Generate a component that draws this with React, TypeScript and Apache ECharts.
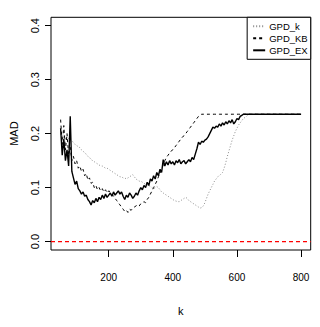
import React, { useEffect, useRef } from "react";
import * as echarts from "echarts";

const kValues = [
  50, 55, 60, 65, 70, 75, 80, 85, 90, 95, 100, 105, 110, 115, 120, 125, 130, 135, 140, 145,
  150, 155, 160, 165, 170, 175, 180, 185, 190, 195, 200, 205, 210, 215, 220, 225, 230, 235, 240, 245,
  250, 255, 260, 265, 270, 275, 280, 285, 290, 295, 300, 305, 310, 315, 320, 325, 330, 335, 340, 345,
  350, 355, 360, 365, 370, 375, 380, 385, 390, 395, 400, 405, 410, 415, 420, 425, 430, 435, 440, 445,
  450, 455, 460, 465, 470, 475, 480, 485, 490, 495, 500, 505, 510, 515, 520, 525, 530, 535, 540, 545,
  550, 555, 560, 565, 570, 575, 580, 585, 590, 595, 600, 605, 610, 615, 620, 625, 630, 635, 640, 645,
  650, 700, 750, 800,
];

const gpdK = [
  0.2, 0.19, 0.205, 0.188, 0.196, 0.19, 0.188, 0.186, 0.184, 0.18, 0.178, 0.176, 0.174, 0.17, 0.168, 0.164, 0.162, 0.158, 0.156, 0.152,
  0.15, 0.148, 0.146, 0.144, 0.142, 0.14, 0.14, 0.138, 0.136, 0.136, 0.134, 0.132, 0.13, 0.128, 0.126, 0.124, 0.122, 0.12, 0.12, 0.118,
  0.118, 0.116, 0.118, 0.12, 0.122, 0.124, 0.12, 0.116, 0.114, 0.112, 0.112, 0.11, 0.108, 0.106, 0.104, 0.104, 0.102, 0.1, 0.098, 0.1,
  0.102, 0.1, 0.096, 0.092, 0.09, 0.088, 0.086, 0.084, 0.082, 0.08, 0.078, 0.076, 0.075, 0.074, 0.074, 0.076, 0.078, 0.08, 0.082, 0.08,
  0.076, 0.074, 0.072, 0.07, 0.068, 0.066, 0.064, 0.062, 0.063, 0.066, 0.072, 0.08, 0.088, 0.094, 0.1, 0.106, 0.112, 0.116, 0.12, 0.122,
  0.125, 0.128, 0.136, 0.146, 0.158, 0.168, 0.178, 0.188, 0.196, 0.204, 0.21, 0.216, 0.22, 0.224, 0.228, 0.23, 0.232, 0.235, 0.236, 0.236,
  0.236, 0.236, 0.236, 0.236,
];

const gpdKB = [
  0.226, 0.18, 0.215, 0.17, 0.2, 0.16, 0.175, 0.15, 0.158, 0.144, 0.15, 0.136, 0.14, 0.13, 0.134, 0.122, 0.126, 0.114, 0.118, 0.108,
  0.11, 0.1, 0.104, 0.096, 0.1, 0.094, 0.098, 0.092, 0.096, 0.09, 0.094, 0.092, 0.088, 0.084, 0.08, 0.076, 0.072, 0.068, 0.064, 0.06,
  0.056, 0.058, 0.054, 0.06, 0.058, 0.062, 0.064, 0.066, 0.068, 0.066, 0.07, 0.072, 0.074, 0.072, 0.078, 0.082, 0.088, 0.094, 0.1, 0.106,
  0.112, 0.12, 0.126, 0.134, 0.142, 0.15, 0.156, 0.16, 0.164, 0.168, 0.17, 0.174, 0.178, 0.182, 0.186, 0.19, 0.194, 0.196, 0.2, 0.204,
  0.208, 0.212, 0.216, 0.22, 0.224, 0.228, 0.232, 0.234, 0.236, 0.236, 0.236, 0.236, 0.236, 0.236, 0.236, 0.236, 0.236, 0.236, 0.236, 0.236,
  0.236, 0.236, 0.236, 0.236, 0.236, 0.236, 0.236, 0.236, 0.236, 0.236, 0.236, 0.236, 0.236, 0.236, 0.236, 0.236, 0.236, 0.236, 0.236, 0.236,
  0.236, 0.236, 0.236, 0.236,
];

const gpdEX = [
  0.21, 0.16, 0.19, 0.15, 0.17, 0.14, 0.232, 0.13, 0.118, 0.106, 0.112, 0.098, 0.094, 0.088, 0.092, 0.084, 0.086, 0.078, 0.074, 0.068,
  0.076, 0.072, 0.08, 0.074, 0.082, 0.078, 0.086, 0.08, 0.088, 0.082, 0.086, 0.09, 0.084, 0.092, 0.086, 0.09, 0.094, 0.088, 0.092, 0.084,
  0.078, 0.086, 0.082, 0.09, 0.086, 0.08, 0.084, 0.09, 0.086, 0.094, 0.1, 0.096, 0.104, 0.1, 0.11, 0.104, 0.116, 0.112, 0.122, 0.116,
  0.128, 0.122, 0.134, 0.128, 0.152, 0.14, 0.148, 0.142, 0.15, 0.144, 0.148, 0.142, 0.15, 0.146, 0.152, 0.144, 0.148, 0.15, 0.144, 0.148,
  0.152, 0.148, 0.156, 0.152, 0.162, 0.172, 0.184, 0.18, 0.186, 0.184, 0.188, 0.19, 0.194, 0.2, 0.206, 0.212, 0.21, 0.214, 0.212, 0.218,
  0.214, 0.22, 0.216, 0.222, 0.218, 0.224, 0.22, 0.226, 0.218, 0.222, 0.228, 0.226, 0.232, 0.234, 0.236, 0.236, 0.236, 0.236, 0.236, 0.236,
  0.236, 0.236, 0.236, 0.236,
];

const xTicks = [200, 400, 600, 800];
const yTicks = [0, 0.1, 0.2, 0.3, 0.4];
const seriesNames = ["GPD_k", "GPD_KB", "GPD_EX"];
const xRange = [20, 830];
const refLevel = 0;

export default function App() {
  const ref = useRef<HTMLDivElement>(null);
  useEffect(() => {
    if (!ref.current) return;
    const chart = echarts.init(ref.current, undefined, { renderer: "svg" });
    const pair = (vals: number[]) => kValues.map((k, i) => [k, vals[i]]);
    const font = "'Liberation Sans', Arial, sans-serif";
    chart.setOption({
      animation: false,
      backgroundColor: "#ffffff",
      color: ["#8c8c8c", "#000000", "#000000", "#ff0000"],
      grid: {
        left: 41.7,
        right: 9.3,
        top: 17.3,
        bottom: 77,
        show: true,
        borderColor: "#000000",
        borderWidth: 1,
      },
      legend: {
        orient: "vertical",
        right: 9.3,
        top: 17.3,
        data: seriesNames,
        itemWidth: 12,
        itemHeight: 8,
        itemGap: 2,
        padding: [4, 3, 4, 5],
        borderColor: "#000000",
        borderWidth: 1,
        backgroundColor: "#ffffff",
        itemStyle: { opacity: 0 },
        textStyle: { fontFamily: font, fontSize: 9.5, color: "#000000", padding: [0, 0, 0, -1] },
      },
      xAxis: {
        type: "value",
        min: xRange[0],
        max: xRange[1],
        name: "k",
        nameLocation: "middle",
        nameGap: 55,
        nameTextStyle: { fontFamily: font, fontSize: 11, color: "#000000" },
        splitLine: { show: false },
        axisLine: { show: false, onZero: false },
        axisTick: { show: true, inside: false, length: 7, customValues: xTicks, lineStyle: { color: "#000000" } },
        axisLabel: { customValues: xTicks, margin: 22, fontFamily: font, fontSize: 10, color: "#000000" },
      },
      yAxis: {
        type: "value",
        min: -0.0156,
        max: 0.4156,
        name: "MAD",
        nameLocation: "middle",
        nameGap: 32,
        nameRotate: 90,
        nameTextStyle: { fontFamily: font, fontSize: 11, color: "#000000" },
        splitLine: { show: false },
        axisLine: { show: false, onZero: false },
        axisTick: { show: true, inside: false, length: 6, customValues: yTicks, lineStyle: { color: "#000000" } },
        axisLabel: {
          customValues: yTicks,
          rotate: 90,
          margin: 11,
          fontFamily: font,
          fontSize: 11,
          color: "#000000",
          formatter: (v: number) => v.toFixed(1),
        },
      },
      series: [
        {
          name: seriesNames[0],
          type: "line",
          data: pair(gpdK),
          symbol: "none",
          lineStyle: { color: "#8c8c8c", width: 1, type: [1, 2] },
        },
        {
          name: seriesNames[1],
          type: "line",
          data: pair(gpdKB),
          symbol: "none",
          lineStyle: { color: "#000000", width: 1, type: [3, 3] },
        },
        {
          name: seriesNames[2],
          type: "line",
          data: pair(gpdEX),
          symbol: "none",
          lineStyle: { color: "#000000", width: 1.4, type: "solid" },
        },
        {
          name: "zero",
          type: "line",
          data: xRange.map((x) => [x, refLevel]),
          symbol: "none",
          silent: true,
          lineStyle: { color: "#ff0000", width: 1.2, type: [4, 3] },
        },
      ],
    });
    return () => chart.dispose();
  }, []);
  return (
    <div
      ref={ref}
      style={{ position: "fixed", left: 0, top: 0, width: 320, height: 327, background: "#fff" }}
    />
  );
}
